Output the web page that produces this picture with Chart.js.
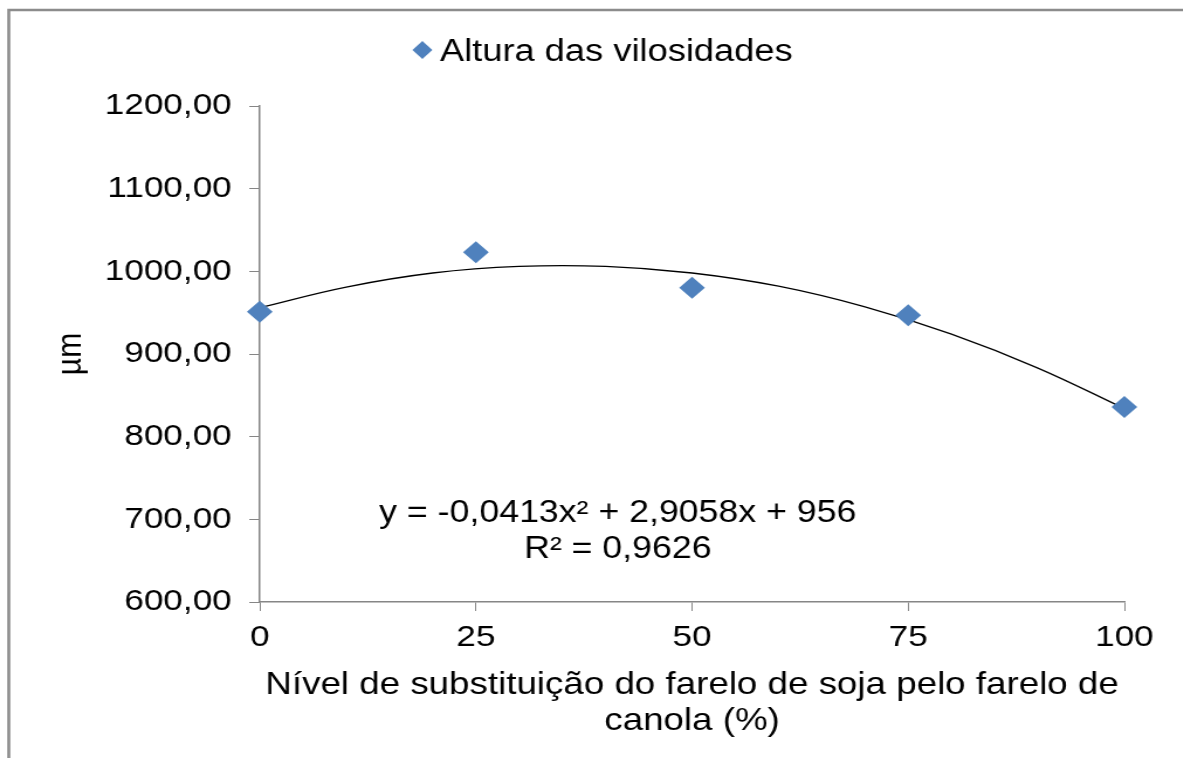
<!DOCTYPE html>
<html>
<head>
<meta charset="utf-8">
<script src="https://cdn.jsdelivr.net/npm/chart.js@4"></script>
<style>
  html, body { margin: 0; padding: 0; background: #fff; overflow: hidden; }
  #wrap { width: 1011px; height: 758px; transform: scaleX(1.17); transform-origin: 0 0; }
</style>
</head>
<body>
<div id="wrap"><canvas id="myChart" width="1011" height="758"></canvas></div>
<script>
// data
var levels = [0, 25, 50, 75, 100];
var alturas = [951, 1023, 980, 947, 836];

// polynomial trend line
var trendX = [0, 10, 20, 30, 40, 50, 60, 70, 80, 90, 100];
var trendY = [956, 981, 998, 1006, 1006, 998, 982, 957, 924, 883, 834];

var seriesName = "Altura das vilosidades";
var equation = ["y = -0,0413x\u00b2 + 2,9058x + 956", "R\u00b2 = 0,9626"];
var xTitle = ["N\u00edvel de substitui\u00e7\u00e3o do farelo de soja pelo farelo de", "canola (%)"];
var yTitle = "\u00b5m";

var fontFamily = "'Liberation Sans', Arial, sans-serif";
var axisGray = "#868686";
var markerBlue = "#4F81BD";

// frame, legend and equation text
var extras = {
  id: "extras",
  afterDraw: function(chart) {
    var ctx = chart.ctx;
    ctx.save();
    ctx.strokeStyle = "#8c8c8c";
    ctx.lineWidth = 2.6;
    ctx.beginPath();
    ctx.moveTo(7.5, 758);
    ctx.lineTo(7.5, 10);
    ctx.lineTo(1011, 10);
    ctx.stroke();

    // legend
    ctx.fillStyle = markerBlue;
    ctx.beginPath();
    ctx.moveTo(361, 41);
    ctx.lineTo(369.5, 50);
    ctx.lineTo(361, 59);
    ctx.lineTo(352.5, 50);
    ctx.closePath();
    ctx.fill();
    ctx.fillStyle = "#000";
    ctx.font = "31px " + fontFamily;
    ctx.textBaseline = "alphabetic";
    ctx.textAlign = "left";
    ctx.fillText(seriesName, 376, 61);

    // equation
    ctx.textAlign = "center";
    ctx.font = "30.5px " + fontFamily;
    ctx.fillText(equation[0], 528, 522);
    ctx.fillText(equation[1], 528, 558);
    ctx.restore();
  }
};

new Chart("myChart", {
  type: "scatter",
  data: {
    datasets: [{
      label: seriesName,
      data: levels.map(function(x, i) { return {x: x, y: alturas[i]}; }),
      pointStyle: "rectRot",
      pointRadius: 11,
      pointHoverRadius: 11,
      backgroundColor: markerBlue,
      borderColor: markerBlue,
      borderWidth: 0,
      showLine: false,
      clip: false
    }, {
      label: "trend",
      data: trendX.map(function(x, i) { return {x: x, y: trendY[i]}; }),
      showLine: true,
      tension: 0.4,
      pointRadius: 0,
      borderColor: "#000",
      borderWidth: 1.3,
      fill: false,
      clip: false
    }]
  },
  options: {
    responsive: false,
    animation: false,
    events: [],
    layout: { padding: { left: 0, right: 50, top: 106, bottom: 0 } },
    plugins: {
      legend: { display: false },
      tooltip: { enabled: false }
    },
    scales: {
      x: {
        type: "linear",
        min: 0,
        max: 100,
        ticks: {
          stepSize: 25,
          color: "#000",
          padding: 9,
          font: { family: fontFamily, size: 30 }
        },
        grid: { drawOnChartArea: false, drawTicks: true, tickLength: 9, color: axisGray },
        border: { display: true, color: axisGray, width: 1.5 },
        title: {
          display: true,
          text: xTitle,
          color: "#000",
          padding: { top: 6, bottom: 18 },
          font: { family: fontFamily, size: 31.4, lineHeight: 1.17 }
        },
        afterFit: function(scale) { scale.height = 156; }
      },
      y: {
        min: 600,
        max: 1200,
        ticks: {
          stepSize: 100,
          color: "#000",
          padding: 15,
          font: { family: fontFamily, size: 30 },
          callback: function(v) { return v.toFixed(2).replace(".", ","); }
        },
        grid: { drawOnChartArea: false, drawTicks: true, tickLength: 9, color: axisGray },
        border: { display: true, color: axisGray, width: 1.5 },
        title: {
          display: true,
          text: yTitle,
          color: "#000",
          padding: { top: 43, bottom: 0 },
          font: { family: fontFamily, size: 30 }
        },
        afterFit: function(scale) { scale.width = 222; }
      }
    }
  },
  plugins: [extras]
});
</script>
</body>
</html>
